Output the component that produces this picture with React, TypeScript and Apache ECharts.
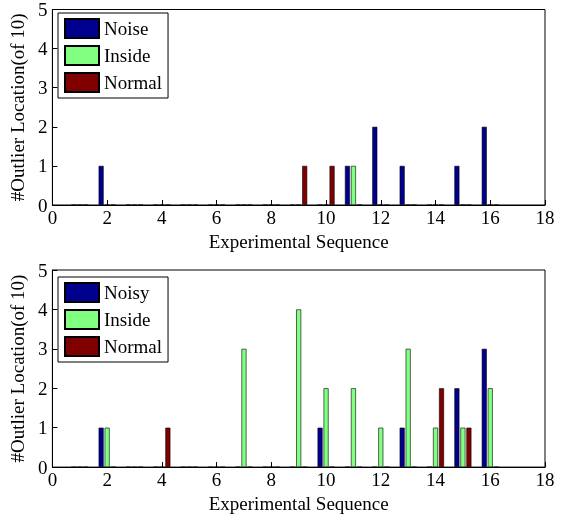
import React, { useEffect, useRef } from "react";
import * as echarts from "echarts";

const sequences = [1, 2, 3, 4, 5, 6, 7, 8, 9, 10, 11, 12, 13, 14, 15, 16];
const topNoise = [0, 1, 0, 0, 0, 0, 0, 0, 0, 0, 1, 2, 1, 0, 1, 2];
const topInside = [0, 0, 0, 0, 0, 0, 0, 0, 0, 0, 1, 0, 0, 0, 0, 0];
const topNormal = [0, 0, 0, 0, 0, 0, 0, 0, 1, 1, 0, 0, 0, 0, 0, 0];
const botNoisy = [0, 1, 0, 0, 0, 0, 0, 0, 0, 1, 0, 0, 1, 0, 2, 3];
const botInside = [0, 1, 0, 0, 0, 0, 3, 0, 4, 2, 2, 1, 3, 1, 1, 2];
const botNormal = [0, 0, 0, 1, 0, 0, 0, 0, 0, 0, 0, 0, 0, 2, 1, 0];
const topNames = ["Noise", "Inside", "Normal"];
const botNames = ["Noisy", "Inside", "Normal"];
const xTitle = "Experimental Sequence";
const yTitle = "#Outlier Location(of 10)";

const FONT = "Liberation Serif";
const COLORS = ["#00008f", "#80ff80", "#800000"];

function Panel({ names, values, top, gridTop, gridHeight, legendTop }: any) {
  const ref = useRef<HTMLDivElement>(null);
  useEffect(() => {
    if (!ref.current) return;
    const chart = echarts.init(ref.current, undefined, { renderer: "svg" });
    chart.setOption({
      animation: false,
      textStyle: { fontFamily: FONT },
      grid: { left: 50, right: 19, top: gridTop, height: gridHeight, show: true, borderColor: "#000", borderWidth: 1, backgroundColor: "transparent" },
      legend: {
        orient: "vertical", left: 58, top: legendTop, padding: [5, 6, 5, 6], itemWidth: 34, itemHeight: 19,
        itemGap: 6, backgroundColor: "#fff", borderColor: "#000", borderWidth: 1, icon: "rect",
        textStyle: { fontFamily: FONT, fontSize: 19, color: "#000" },
      },
      xAxis: {
        type: "value", min: 0, max: 18, interval: 2,
        axisLine: { show: true, lineStyle: { color: "#000" } },
        axisTick: { show: true, inside: true, length: 5, lineStyle: { color: "#000" } },
        splitLine: { show: false },
        axisLabel: { fontFamily: FONT, fontSize: 19, color: "#000", margin: 3 },
        name: xTitle, nameLocation: "middle", nameGap: 24,
        nameTextStyle: { fontFamily: FONT, fontSize: 19, color: "#000" },
      },
      yAxis: {
        type: "value", min: 0, max: 5, interval: 1,
        axisLine: { show: true, lineStyle: { color: "#000" } },
        axisTick: { show: true, inside: true, length: 5, lineStyle: { color: "#000" } },
        splitLine: { show: false },
        axisLabel: { fontFamily: FONT, fontSize: 19, color: "#000", margin: 5 },
        name: yTitle, nameLocation: "middle", nameGap: 19,
        nameTextStyle: { fontFamily: FONT, fontSize: 19, color: "#000" },
      },
      series: names.map((n: string, k: number) => ({
        type: "bar", name: n,
        data: sequences.map((x, i) => [x, values[k][i]]),
        barWidth: 5, barGap: "20%",
        itemStyle: { color: COLORS[k], borderColor: "#000", borderWidth: 0.6 },
      })),
    });
    return () => chart.dispose();
  }, []);
  return <div ref={ref} style={{ position: "fixed", left: 0, top, width: 564, height: 259 }} />;
}

export default function App() {
  return (
    <>
      <Panel names={topNames} values={[topNoise, topInside, topNormal]} top={0} gridTop={6} gridHeight={199} legendTop={13} />
      <Panel names={botNames} values={[botNoisy, botInside, botNormal]} top={259} gridTop={11} gridHeight={198} legendTop={18} />
    </>
  );
}
